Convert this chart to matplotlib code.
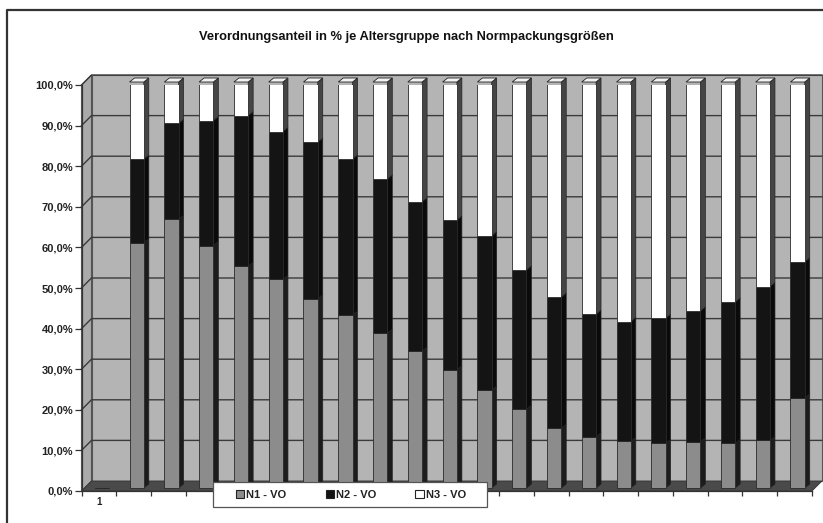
import matplotlib
matplotlib.use("Agg")
import matplotlib.pyplot as plt
from matplotlib.patches import Polygon, Patch, Rectangle
from matplotlib.lines import Line2D
from matplotlib.transforms import IdentityTransform, ScaledTranslation
import numpy as np

plt.rcParams['font.family'] = ['Liberation Sans', 'DejaVu Sans']

# ---- data (percent shares per age group) ----
x_labels = ["1"] + [""] * 20
n1_vo = [0, 60.4, 66.2, 59.7, 54.6, 51.4, 46.6, 42.6, 38.1, 33.7, 29.1,
         24.1, 19.4, 14.7, 12.6, 11.5, 11.0, 11.4, 11.0, 11.7, 22.2]
n2_vo = [0, 20.6, 23.6, 30.8, 37.1, 36.4, 38.6, 38.4, 38.0, 36.8, 36.9,
         38.0, 34.3, 32.3, 30.2, 29.5, 30.8, 32.2, 34.8, 37.9, 33.5]
n3_vo = [0, 19.0, 10.2, 9.5, 8.3, 12.2, 14.8, 19.0, 23.9, 29.5, 34.0,
         37.9, 46.3, 53.0, 57.2, 59.0, 58.2, 56.4, 54.2, 50.4, 44.3]
series_names = ["N1 - VO", "N2 - VO", "N3 - VO"]
y_ticks = [0, 10, 20, 30, 40, 50, 60, 70, 80, 90, 100]
title = "Verordnungsanteil in % je Altersgruppe nach Normpackungsgrößen"

# ---- styling ----
W, H = 823, 523
DPI = 100
front_cols = ["#8c8c8c", "#141414", "#ffffff"]
side_cols = ["#1c1c1c", "#0a0a0a", "#454545"]
wall_col = "#b4b4b4"
side_wall_col = "#aaaaaa"
floor_col = "#4a4a4a"
grid_col = "#3a3a3a"
WALL = np.array([10.0, 10.0])     # depth offset of back wall (px)
BF = np.array([3.0, 3.0])         # bar front offset (px)
BB = np.array([8.0, 7.0])         # bar back offset (px)
BAR_W = 0.41

fig = plt.figure(figsize=(W / DPI, H / DPI), dpi=DPI)
fig.patch.set_facecolor("white")
ax = fig.add_axes([81.5 / W, 1 - 491 / H, (812 - 81.5) / W, (491 - 85) / H])
n = len(n1_vo)
ax.set_xlim(-0.5, n - 0.5)
ax.set_ylim(0, 100)
ax.patch.set_visible(False)
for k in ["top", "right"]:
    ax.spines[k].set_visible(False)
for k in ["left", "bottom"]:
    ax.spines[k].set_color("#333333")
    ax.spines[k].set_linewidth(0.9)

ident = IdentityTransform()


def d(xv, yv):
    return np.array(ax.transData.transform((xv, yv)))


def poly(pts, fc, ec, lw=0.6, z=1):
    p = Polygon(np.array(pts), closed=True, facecolor=fc, edgecolor=ec,
                linewidth=lw, transform=ident, zorder=z, clip_on=False)
    ax.add_patch(p)


x0, x1 = -0.5, n - 0.5
# back wall
poly([d(x0, 0) + WALL, d(x1, 0) + WALL, d(x1, 100) + WALL, d(x0, 100) + WALL],
     wall_col, "#555555", 0.8, 0.2)
# side wall
poly([d(x0, 0), d(x0, 100), d(x0, 100) + WALL, d(x0, 0) + WALL],
     side_wall_col, "#555555", 0.8, 0.2)
# gridlines on back + side wall
for yv in y_ticks[1:]:
    a, b = d(x0, yv), d(x1, yv)
    ax.add_line(Line2D([a[0], a[0] + WALL[0], b[0] + WALL[0]],
                       [a[1], a[1] + WALL[1], b[1] + WALL[1]],
                       color=grid_col, lw=1.0, transform=ident, zorder=0.3,
                       clip_on=False))
# floor
poly([d(x0, 0), d(x1, 0), d(x1, 0) + WALL, d(x0, 0) + WALL],
     floor_col, "#333333", 0.6, 0.4)

# bars
xs = np.arange(n)
front_tr = ax.transData + ScaledTranslation(BF[0] / DPI, BF[1] / DPI, fig.dpi_scale_trans)
bottom = np.zeros(n)
for si, vals in enumerate([n1_vo, n2_vo, n3_vo]):
    vals = np.array(vals, dtype=float)
    ax.bar(xs, vals, width=BAR_W, bottom=bottom, color=front_cols[si],
           edgecolor="#2a2a2a", linewidth=0.6, transform=front_tr, zorder=3)
    for i in range(n):
        if vals[i] <= 0:
            continue
        xr = xs[i] + BAR_W / 2
        xl = xs[i] - BAR_W / 2
        b0, b1 = bottom[i], bottom[i] + vals[i]
        poly([d(xr, b0) + BF, d(xr, b1) + BF, d(xr, b1) + BB, d(xr, b0) + BB],
             side_cols[si], "#222222", 0.5, 2.5)
        if si == 2:
            poly([d(xl, b1) + BF, d(xr, b1) + BF, d(xr, b1) + BB, d(xl, b1) + BB],
                 "#f2f2f2", "#222222", 0.6, 2.6)
    bottom = bottom + vals

# axes ticks
ax.set_yticks(y_ticks)
ax.set_yticklabels([f"{v:.1f}%".replace(".", ",") for v in y_ticks],
                   fontsize=8, fontweight="bold", color="#222222")
ax.tick_params(axis="y", direction="out", length=5, width=0.9, color="#333333", pad=1)
ax.set_xticks(xs)
ax.set_xticklabels(x_labels, fontsize=7, fontweight="bold", color="#222222")
ax.tick_params(axis="x", which="major", length=0, pad=4)
ax.set_xticks(np.arange(n + 1) - 0.5, minor=True)
ax.tick_params(axis="x", which="minor", direction="out", length=3.5, width=0.9,
               color="#333333")

# title
fig.text(406 / W, 1 - 37 / H, title, ha="center", va="center",
         fontsize=9.25, fontweight="bold", color="#111111")

# outer frame
fig.add_artist(Line2D([7 / W, 7 / W, 1.0], [0.0, 1 - 10 / H, 1 - 10 / H],
                      transform=fig.transFigure, color="#333333", lw=1.6))

# legend box + legend
fig.add_artist(Rectangle((213 / W, 1 - 507 / H), (487 - 213) / W, 25 / H,
                         transform=fig.transFigure, facecolor="white",
                         edgecolor="#555555", linewidth=0.9, zorder=4))
handles = [Patch(facecolor=front_cols[k], edgecolor="#222222", linewidth=0.8)
           for k in range(3)]
leg = fig.legend(handles, series_names, loc="center",
                 bbox_to_anchor=(351 / W, 1 - 494.5 / H),
                 ncol=3, frameon=False, borderaxespad=0,
                 handlelength=0.75, handleheight=0.75, handletextpad=0.2,
                 columnspacing=3.5, prop={"size": 8, "weight": "bold"},
                 borderpad=0)
leg.set_zorder(5)
for t in leg.get_texts():
    t.set_color("#222222")

fig.savefig("out.png", dpi=DPI)
